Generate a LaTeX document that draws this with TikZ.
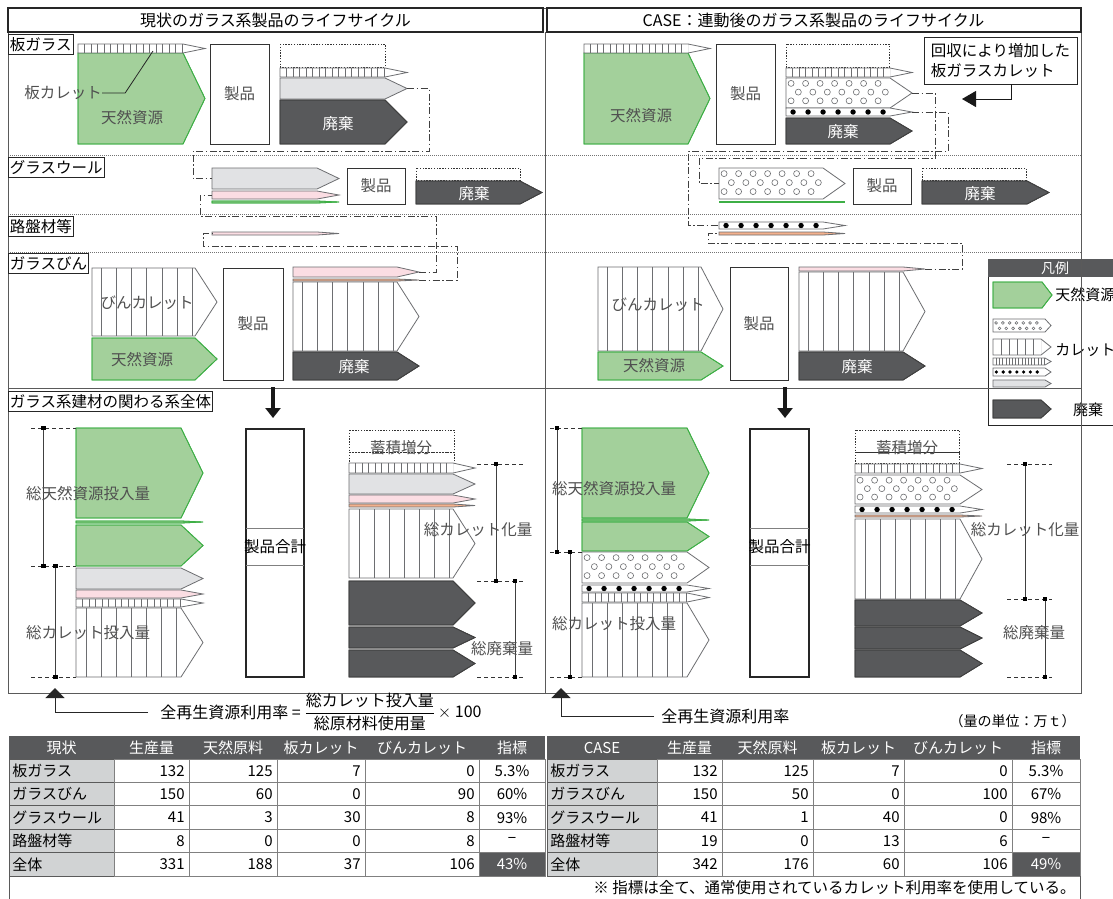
\documentclass[tikz,border=0pt]{standalone}
\usepackage{fontspec}
\setmainfont{Noto Sans CJK JP}
\usepackage{amsmath}
\usetikzlibrary{arrows.meta,positioning}
\definecolor{natgreen}{RGB}{163,208,155}
\definecolor{natedge}{RGB}{62,175,70}
\definecolor{culgrey}{RGB}{225,226,228}
\definecolor{culpink}{RGB}{251,221,227}
\definecolor{culorange}{RGB}{243,176,140}
\definecolor{wastegrey}{RGB}{88,89,91}
\definecolor{edgegrey}{RGB}{109,110,113}
\definecolor{framegrey}{RGB}{90,90,90}
\definecolor{cellgrey}{RGB}{209,211,212}
\definecolor{txtgrey}{RGB}{80,80,80}
\newcommand{\jfont}[1]{\fontsize{#1}{#1}\selectfont}
% arrow outline: left x, top y, tip x, bottom y
\def\tiplen{22}
\newcommand{\arrshape}[4]{(#1,#2) -- ({#3-\tiplen},#2) -- (#3,{(#2+#4)/2}) -- ({#3-\tiplen},#4) -- (#1,#4) -- cycle}
\newcommand{\flow}[7][]{%
  \def\fxa{#3}\def\fya{#4}\def\fxb{#5}\def\fyb{#6}%
  \fill[white,#1] \arrshape{#3}{#4}{#5}{#6};
  \begin{scope}
    \clip \arrshape{#3}{#4}{#5}{#6};
    #7
  \end{scope}
  \draw[edgegrey,#1,fill=none] \arrshape{#3}{#4}{#5}{#6};
  \coordinate (#2-w) at (#3,{(#4+#6)/2});
  \coordinate (#2-e) at (#5,{(#4+#6)/2});
}
% fillings
\newcommand{\vlines}[2]{%
  \clip (\fxa,\fya) rectangle ({\fxb-\tiplen},\fyb);
  \foreach \k in {0,...,30} {\draw[patline] ({\fxa+#2+#1*\k},\fya) -- ({\fxa+#2+#1*\k},\fyb);}
}
\newcommand{\ocircles}[4]{%
  \foreach \fr/\of in {#4} {\foreach \k in {1,...,#3}
    {\draw[patline] ({\fxa+#2*(\k-1+\of)},{\fya+(\fyb-\fya)*\fr}) circle[radius=#1];}}
}
\newcommand{\bdots}[4]{%
  \foreach \k in {1,...,#3} {\fill[black] ({\fxa+#2*(\k-1+#4)},{(\fya+\fyb)/2}) circle[radius=#1];}
}
\newcommand{\circfill}{\ocircles{3}{14.5}{7}{0.18/0.35,0.47/0.85,0.76/0.35}}
\newcommand{\dotrow}{\bdots{2.7}{15}{7}{0.47}}
% dimension bars
\newcommand{\dimbar}[3]{%
  \draw[dimline] (#1,#2) -- (#1,#3);
  \fill (#1-2.2,#2-2.2) rectangle (#1+2.2,#2+2.2);
  \fill (#1-2.2,#3-2.2) rectangle (#1+2.2,#3+2.2);
}
\newcommand{\dimdash}[3]{\draw[dimdash] (#1,#3) -- (#2,#3);}
% tables
\newcommand{\datatable}[9]{%
  \fill[wastegrey] (#1,736) rectangle (#7,759);
  \foreach \xl/\xr/\tl in {#1/#2/#8,#2/#3/生産量,#3/#4/天然原料,#4/#5/板カレット,#5/#6/びんカレット,#6/#7/指標}
    {\node[headtext] at ({(\xl+\xr)/2},747.5) {\tl};}
  \foreach \lab/\va/\vb/\vc/\vd/\ve [count=\rw] in {#9} {
    \pgfmathsetmacro\yt{759+23.4*(\rw-1)}
    \pgfmathsetmacro\yb{759+23.4*\rw}
    \pgfmathsetmacro\ym{759+23.4*(\rw-0.5)}
    \filldraw[labcell] (#1,\yt) rectangle (#2,\yb);
    \foreach \xl/\xr in {#2/#3,#3/#4,#4/#5,#5/#6,#6/#7}
      {\draw[valcell] (\xl,\yt) rectangle (\xr,\yb);}
    \ifnum\rw=5 \filldraw[valcell,fill=wastegrey] (#6,\yt) rectangle (#7,\yb);\fi
    \node[tabtext,anchor=west] at (#1+3,\ym) {\lab};
    \node[tabtext,anchor=east] at (#3-4,\ym) {\va};
    \node[tabtext,anchor=east] at (#4-4,\ym) {\vb};
    \node[tabtext,anchor=east] at (#5-4,\ym) {\vc};
    \node[tabtext,anchor=east] at (#6-4,\ym) {\vd};
    \node[tabtext] at ({(#6+#7)/2},\ym) {\ifnum\rw=5 \color{white}\fi\ve};
  }
}

\begin{document}
\begin{tikzpicture}[x=1pt, y=-1pt, line width=0.8pt,
    every node/.style={font=\jfont{15.5}, inner sep=0pt},
    greenarr/.style={fill=natgreen, draw=natedge},
    greyarr/.style={fill=culgrey},
    pinkarr/.style={fill=culpink},
    orangearr/.style={fill=culorange},
    wastearr/.style={fill=wastegrey, draw=black!75},
    patline/.style={draw=edgegrey, line width=0.6pt},
    prodbox/.style={draw=black!80, line width=1pt, fill=white, text=txtgrey},
    sumbox/.style={draw=black!85, line width=1.6pt, fill=white},
    dotbox/.style={draw=black!80, line width=0.8pt, dash pattern=on 1.4pt off 1.4pt},
    link/.style={draw=black!75, line width=0.9pt, dash pattern=on 7pt off 2.5pt on 1.5pt off 2.5pt},
    secdot/.style={draw=black!55, line width=0.5pt, dash pattern=on 1pt off 1pt},
    frame/.style={draw=framegrey, line width=1pt},
    titlebox/.style={draw=black!85, line width=1.5pt},
    seclabel/.style={draw=black!85, fill=white, line width=0.8pt, anchor=north west,
        inner xsep=1.5pt, minimum height=20pt},
    arrtext/.style={text=txtgrey},
    wastetext/.style={text=white},
    dimtext/.style={text=txtgrey},
    dimline/.style={draw=black!75, line width=0.9pt},
    dimdash/.style={draw=black!80, line width=0.8pt, dash pattern=on 4pt off 3pt},
    leader/.style={draw=black!85, line width=0.8pt},
    downarr/.style={-{Triangle[length=10pt,width=15pt]}, line width=3.2pt, black!90},
    callarr/.style={-{Triangle[length=14pt,width=16pt]}, line width=1pt, black!90},
    rateup/.style={-{Triangle[length=10pt,width=19pt]}, line width=1pt, black!85},
    callbox/.style={draw=black!85, line width=0.8pt, fill=white, align=left,
        font=\fontsize{15.5}{20}\selectfont, minimum width=153pt, minimum height=47pt},
    legbox/.style={draw=black!85, line width=0.9pt},
    legtext/.style={font=\jfont{15}},
    headtext/.style={text=white, font=\jfont{15}},
    tabtext/.style={font=\jfont{15}},
    labcell/.style={draw=framegrey, fill=cellgrey, line width=0.8pt},
    valcell/.style={draw=black!50, line width=0.8pt}
]
\useasboundingbox (0,0) rectangle (1113,898);
\fill[white] (0,0) rectangle (1113,898);

% legend
\begin{scope}
  \def\tiplen{10}
  \draw[legbox] (988,259) rectangle (1122,425);
  \fill[wastegrey] (988,259) rectangle (1122,277);
  \node[text=white, font=\jfont{14}] (leg-title) at (1055,268) {凡例};
  \flow[greenarr]{leg-nat}{993}{282}{1052}{308}{}
  \def\tiplen{6}
  \flow{leg-circ}{993}{319}{1051}{332}{\ocircles{1.4}{6.8}{7}{0.3/0.45,0.72/0.95}}
  \def\tiplen{10}
  \flow{leg-cul}{993}{339}{1051}{355}{\vlines{8}{8}}
  \def\tiplen{6}
  \flow{leg-hatch}{993}{358}{1051}{365}{\vlines{3.2}{3.2}}
  \flow{leg-dot}{993}{368}{1051}{376}{\bdots{1.8}{6.8}{7}{0.5}}
  \flow[greyarr]{leg-grey}{993}{380}{1051}{387}{}
  \def\tiplen{10}
  \flow[wastearr]{leg-waste}{993}{400}{1051}{418}{}
  \node[legtext, anchor=west] (leg-nat-t) at (1055,295) {天然資源};
  \node[legtext, anchor=west] (leg-cul-t) at (1055,350) {カレット};
  \node[legtext] (leg-waste-t) at (1088,410) {廃棄};
\end{scope}

% frame and rows
\draw[secdot] (8,155) -- (1081,155);
\draw[secdot] (8,214) -- (1081,214);
\draw[secdot] (8,252) -- (1081,252);
\draw[frame] (8,388) -- (1081,388);
\draw[frame] (8,8) rectangle (1081,693);
\draw[frame] (545,32) -- (545,693);
\draw[titlebox] (8,8) rectangle (543,32);
\draw[titlebox] (547,8) rectangle (1081,32);
\node[font=\jfont{16}] (title-l) at (275.5,20) {現状のガラス系製品のライフサイクル};
\node[font=\jfont{16}] (title-r) at (813.5,20) {CASE：連動後のガラス系製品のライフサイクル};

% ---- current state: plate glass
\flow[greenarr]{pg-nat}{78}{53}{205}{144}{}
\flow{pg-hatch}{78}{44}{205}{53}{\vlines{6.5}{6.5}}
\node[arrtext] (pg-nat-t) at (132,118) {天然資源};
\node[prodbox, minimum width=59pt, minimum height=100pt] (pg-prod) at (239.5,94) {製品};
\draw[dotbox] (280,44) rectangle (385,67);
\flow{pg-out-hatch}{280}{68}{407}{77}{\vlines{6.5}{6.5}}
\flow[greyarr]{pg-grey}{280}{78}{407}{99}{}
\flow[wastearr]{pg-waste}{280}{100}{407}{144}{}
\node[wastetext] (pg-waste-t) at (338,124) {廃棄};
\node[arrtext] (pg-cul-lbl) at (63,93) {板カレット};
\coordinate (pg-cul-pt) at (153,51);
\draw[leader] (pg-cul-lbl.east) -- ++(23,0) -- (pg-cul-pt);

% glass wool
\flow[greyarr]{gw-grey}{212}{168}{339}{189}{}
\flow[pinkarr]{gw-pink}{212}{191}{339}{199}{}
\flow[greenarr]{gw-nat}{212}{201}{339}{203}{}
\node[prodbox, minimum width=58pt, minimum height=36pt] (gw-prod) at (376,186) {製品};
\draw[dotbox] (416,168) rectangle (520,180);
\flow[wastearr]{gw-waste}{416}{181}{542}{204}{}
\node[wastetext] (gw-waste-t) at (474,194) {廃棄};

% roadbed
\flow[pinkarr]{rb-thin}{212}{232}{339}{235}{}

% bottles
\flow{bt-cul}{92}{268}{217}{336}{\vlines{15.2}{9}}
\node[arrtext] (bt-cul-t) at (147,303) {びんカレット};
\flow[greenarr]{bt-nat}{92}{338}{217}{380}{}
\node[arrtext] (bt-nat-t) at (142,360) {天然資源};
\node[prodbox, minimum width=60pt, minimum height=112pt] (bt-prod) at (253,324) {製品};
\flow[pinkarr]{bt-pink}{293}{267}{419}{277}{}
\flow[orangearr]{bt-thin}{293}{279}{419}{281}{}
\flow{bt-out}{293}{282}{419}{351}{\vlines{15.2}{9}}
\flow[wastearr]{bt-waste}{293}{352}{419}{380}{}
\node[wastetext] (bt-waste-t) at (354,367) {廃棄};

\draw[link] (pg-grey-e) -- ++(22,0) |- (193,151) |- (gw-grey-w);
\draw[link] (bt-pink-e) -- ++(17,0) |- (200,216) |- (gw-pink-w);
\draw[link] (bt-thin-e) -- ++(38,0) |- (203,246) |- (rb-thin-w);

% whole system, current
\coordinate (dn-l-top) at (273,387);
\coordinate (dn-l-tip) at (273,418);
\draw[downarr] (dn-l-top) -- (dn-l-tip);
\flow[greenarr]{all-nat1}{76}{428}{203}{518}{}
\flow[greenarr]{all-nat2}{76}{521}{203}{523}{}
\flow[greenarr]{all-nat3}{76}{525}{203}{566}{}
\flow[greyarr]{all-grey}{76}{568}{203}{589}{}
\flow[pinkarr]{all-pink}{76}{590}{203}{598}{}
\flow{all-hatch}{76}{599}{203}{607}{\vlines{6.5}{6.5}}
\flow{all-cul}{76}{608}{203}{677}{\vlines{15}{10}}
\dimdash{31}{76}{428} \dimdash{31}{76}{566} \dimdash{31}{76}{677}
\dimbar{43.5}{428}{566}
\dimbar{55.5}{566}{677}
\node[dimtext] (all-nat-t) at (88,494) {総天然資源投入量};
\node[dimtext] (all-cul-t) at (88,633) {総カレット投入量};
\node[sumbox, minimum width=58pt, minimum height=248pt] (all-prod) at (275,553) {};
\draw[black!50] (246,528) -- (304,528);
\draw[black!50] (246,565) -- (304,565);
\node (all-prod-t) at (275,547) {製品合計};
\draw[dotbox] (349,430) rectangle (454,452);
\draw[dotbox] (349,452) rectangle (454,463);
\node[dimtext] (all-stock-t) at (401,448) {蓄積増分};
\flow{all-o-hatch}{349}{463}{475}{473}{\vlines{6.5}{6.5}}
\flow[greyarr]{all-o-grey}{349}{474}{475}{494}{}
\flow[pinkarr]{all-o-pink}{349}{495}{475}{503}{}
\flow[orangearr]{all-o-thin}{349}{504}{475}{507}{}
\flow{all-o-cul}{349}{509}{475}{578}{\vlines{15}{10}}
\flow[wastearr]{all-w1}{349}{581}{475}{625}{}
\flow[wastearr]{all-w2}{349}{627}{475}{648}{}
\flow[wastearr]{all-w3}{349}{650}{475}{677}{}
\dimdash{477}{523}{464} \dimdash{477}{523}{581} \dimdash{477}{523}{677}
\dimbar{496}{464}{581}
\dimbar{515}{581}{677}
\node[dimtext] (all-o-cul-t) at (478,530) {総カレット化量};
\node[dimtext] (all-waste-t) at (502,649) {総廃棄量};

% ---- CASE: plate glass
\flow[greenarr]{pg2-nat}{584}{53}{710}{144}{}
\flow{pg2-hatch}{584}{44}{710}{53}{\vlines{6.5}{6.5}}
\node[arrtext] (pg2-nat-t) at (641,116) {天然資源};
\node[prodbox, minimum width=59pt, minimum height=100pt] (pg2-prod) at (745.5,94) {製品};
\draw[dotbox] (786,44) rectangle (889,67);
\flow{pg2-out-hatch}{786}{68}{912}{77}{\vlines{6.5}{6.5}}
\flow{pg2-circ}{786}{78}{912}{108}{\circfill}
\flow{pg2-dot}{786}{108}{912}{116}{\dotrow}
\flow[wastearr]{pg2-waste}{786}{118}{912}{144}{}
\node[wastetext] (pg2-waste-t) at (843,132) {廃棄};
\node[callbox] (pg2-note) at (1000.5,60.5) {回収により増加した\\板ガラスカレット};
\coordinate (pg2-note-tip) at (962,99);
\draw[callarr] ([xshift=-66pt]pg2-note.south east) |- (pg2-note-tip);

% glass wool
\flow{gw2-circ}{719}{168}{845}{199}{\circfill}
\draw[natedge, line width=1.4pt] (719,202) -- (845,202);
\node[prodbox, minimum width=58pt, minimum height=36pt] (gw2-prod) at (882,186) {製品};
\draw[dotbox] (922,168) rectangle (1026,180);
\flow[wastearr]{gw2-waste}{922}{181}{1049}{204}{}
\node[wastetext] (gw2-waste-t) at (980,194) {廃棄};

% roadbed
\flow{rb2-dot}{719}{222}{845}{229}{\dotrow}
\flow[orangearr]{rb2-thin}{719}{232}{845}{235}{}

% bottles
\flow{bt2-cul}{598}{267}{723}{351}{\vlines{15.2}{9}}
\node[arrtext] (bt2-cul-t) at (658,305) {びんカレット};
\flow[greenarr]{bt2-nat}{598}{352}{723}{380}{}
\node[arrtext] (bt2-nat-t) at (654,366) {天然資源};
\node[prodbox, minimum width=58pt, minimum height=113pt] (bt2-prod) at (759,323.5) {製品};
\flow[pinkarr]{bt2-thin}{799}{267}{925}{271}{}
\flow{bt2-out}{799}{272}{925}{351}{\vlines{15.2}{9}}
\flow[wastearr]{bt2-waste}{799}{352}{925}{380}{}
\node[wastetext] (bt2-waste-t) at (857,367) {廃棄};

\draw[link] (pg2-circ-e) -- ++(23,0) |- (699,158) |- (gw2-circ-w);
\draw[link] (pg2-dot-e) -- ++(36,0) |- (688,151) |- (rb2-dot-w);
\draw[link] (bt2-thin-e) -- ++(37,0) |- (708,243) |- (rb2-thin-w);

% whole system, CASE
\coordinate (dn-r-top) at (785,387);
\coordinate (dn-r-tip) at (785,418);
\draw[downarr] (dn-r-top) -- (dn-r-tip);
\flow[greenarr]{all2-nat1}{582}{428}{709}{518}{}
\flow[greenarr]{all2-nat2}{582}{519}{709}{521}{}
\flow[greenarr]{all2-nat3}{582}{522}{709}{551}{}
\flow{all2-circ}{582}{552}{709}{583}{\circfill}
\flow{all2-dot}{582}{585}{709}{592}{\dotrow}
\flow{all2-hatch}{582}{593}{709}{602}{\vlines{6.5}{6.5}}
\flow{all2-cul}{582}{603}{709}{677}{\vlines{15}{10}}
\dimdash{550}{582}{428} \dimdash{550}{582}{552} \dimdash{550}{582}{677}
\dimbar{557}{428}{552}
\dimbar{570}{552}{677}
\node[dimtext] (all2-nat-t) at (614,489) {総天然資源投入量};
\node[dimtext] (all2-cul-t) at (614,624) {総カレット投入量};
\node[sumbox, minimum width=59pt, minimum height=248pt] (all2-prod) at (779.5,553) {};
\draw[black!50] (750,528) -- (809,528);
\draw[black!50] (750,565) -- (809,565);
\node (all2-prod-t) at (779.5,547) {製品合計};
\draw[dotbox] (855,430) rectangle (959,452);
\draw[dotbox] (855,452) rectangle (959,463);
\node[dimtext] (all2-stock-t) at (907,448) {蓄積増分};
\flow{all2-o-hatch}{855}{464}{982}{473}{\vlines{6.5}{6.5}}
\flow{all2-o-circ}{855}{475}{982}{504}{\circfill}
\flow{all2-o-dot}{855}{506}{982}{513}{\dotrow}
\flow[orangearr]{all2-o-thin}{855}{515}{982}{517}{}
\flow{all2-o-cul}{855}{519}{982}{599}{\vlines{15}{10}}
\flow[wastearr]{all2-w1}{855}{600}{982}{626}{}
\flow[wastearr]{all2-w2}{855}{627}{982}{649}{}
\flow[wastearr]{all2-w3}{855}{650}{982}{677}{}
\dimdash{1007}{1052}{464} \dimdash{1007}{1052}{599} \dimdash{1007}{1052}{677}
\dimbar{1025}{464}{599}
\dimbar{1045}{599}{677}
\node[dimtext] (all2-o-cul-t) at (1025,530) {総カレット化量};
\node[dimtext] (all2-waste-t) at (1034,633) {総廃棄量};

% row labels
\node[seclabel] (lb-pg) at (8,34) {板ガラス};
\node[seclabel] (lb-gw) at (8,157) {グラスウール};
\node[seclabel] (lb-rb) at (8,216) {路盤材等};
\node[seclabel] (lb-bt) at (8,253) {ガラスびん};
\node[seclabel] (lb-all) at (8,391) {ガラス系建材の関わる系全体};

% recycling rate
\node[anchor=west, font=\jfont{16}] (rate-l) at (160,712) {全再生資源利用率 =};
\node[right=3pt of rate-l, font=\jfont{16}] (rate-frac) {$\dfrac{\mbox{総カレット投入量}}{\mbox{総原材料使用量}}$};
\node[right=2pt of rate-frac, font=\jfont{16}] (rate-x) {$\times$ 100};
\draw[rateup] ([xshift=-12pt]rate-l.west) -| (55,688);
\node[anchor=west, font=\jfont{16}] (rate-r) at (661,716) {全再生資源利用率};
\draw[rateup] ([xshift=-7pt]rate-r.west) -| (561,688);
\node[anchor=east, font=\jfont{14}] (unit) at (1076,721) {（量の単位：万ｔ）};

% tables
\datatable{9}{114}{189}{277}{365}{479}{545}{現状}{板ガラス/132/125/7/0/5.3\%,ガラスびん/150/60/0/90/60\%,グラスウール/41/3/30/8/93\%,路盤材等/8/0/0/8/−,全体/331/188/37/106/43\%}
\datatable{547}{657}{722}{813}{904}{1012}{1080}{CASE}{板ガラス/132/125/7/0/5.3\%,ガラスびん/150/50/0/100/67\%,グラスウール/41/1/40/0/98\%,路盤材等/19/0/13/6/−,全体/342/176/60/106/49\%}
\draw[frame] (9,876) -- (9,900);
\draw[frame] (1080,876) -- (1080,900);
\node[tabtext, anchor=east, font=\jfont{15.5}] (note) at (1076,888) {※ 指標は全て、通常使用されているカレット利用率を使用している。};
\end{tikzpicture}
\end{document}
